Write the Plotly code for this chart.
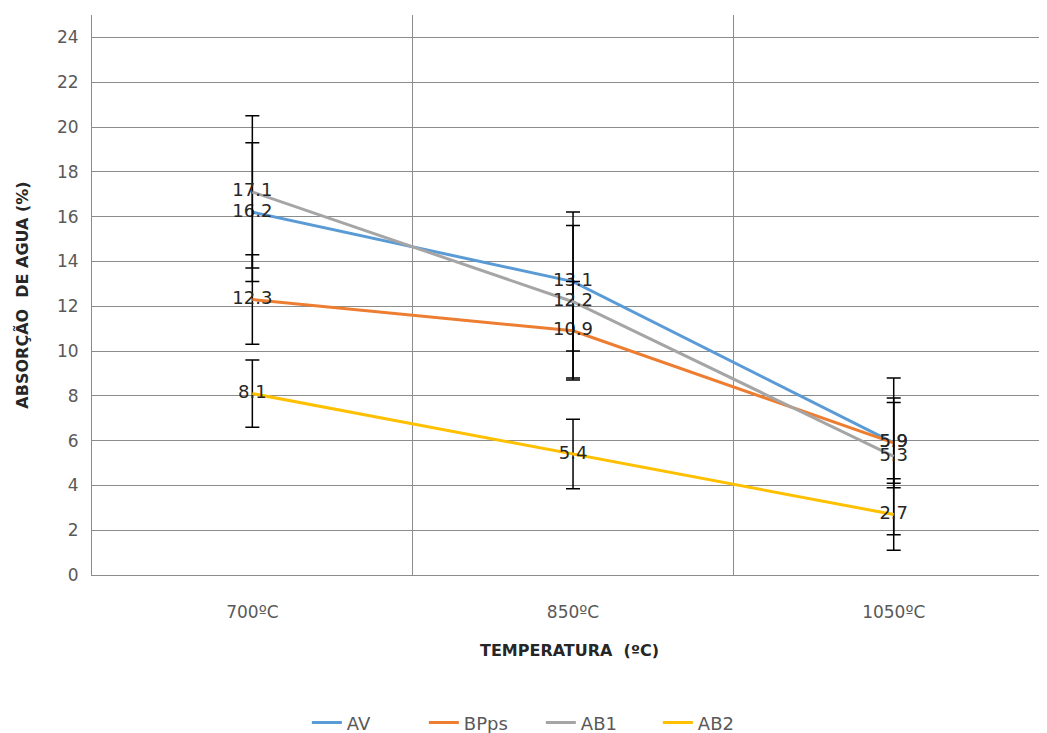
import plotly.graph_objects as go

categories = ["700ºC", "850ºC", "1050ºC"]
series_names = ["AV", "BPps", "AB1", "AB2"]
av = [16.2, 13.1, 5.9]
bpps = [12.3, 10.9, 5.9]
ab1 = [17.1, 12.2, 5.3]
ab2 = [8.1, 5.4, 2.7]
av_err = [3.1, 3.1, 2.0]
bpps_err = [2.0, 2.2, 1.8]
ab1_err = [3.4, 3.4, 3.5]
ab2_err = [1.5, 1.55, 1.6]
colors = ["#5B9BD5", "#ED7D31", "#A5A5A5", "#FFC000"]
y_ticks = list(range(0, 25, 2))

values = [av, bpps, ab1, ab2]
errors = [av_err, bpps_err, ab1_err, ab2_err]

FONT = "DejaVu Sans"
fig = go.Figure()
for name, vals, errs, col in zip(series_names, values, errors, colors):
    fig.add_trace(go.Scatter(
        x=categories, y=vals, name=name, mode="lines+text",
        line=dict(color=col, width=3),
        text=[f"{v:.1f}" for v in vals], textposition="middle center",
        textfont=dict(family=FONT, size=18, color="#262626"),
        error_y=dict(type="data", array=errs, visible=True, color="black",
                     thickness=1.5, width=7),
    ))

fig.update_layout(
    width=1047, height=733,
    margin=dict(l=84, r=8, t=7, b=166, autoexpand=False),
    paper_bgcolor="white", plot_bgcolor="white",
    font=dict(family=FONT, size=17, color="#595959"),
    showlegend=True,
    legend=dict(orientation="h", x=0.47, xanchor="center", y=-0.264, yanchor="middle",
                font=dict(family=FONT, size=18, color="#595959"),
                entrywidth=72, entrywidthmode="pixels"),
    xaxis=dict(type="category", range=[-0.5, 2.478], tickson="boundaries",
               showgrid=True, gridcolor="#8c8c8c", gridwidth=1, automargin=False,
               showline=True, linecolor="#8c8c8c", ticks="", ticklen=0,
               ticklabelstandoff=22,
               tickfont=dict(family=FONT, size=17, color="#595959"),
               title=dict(text="<b>TEMPERATURA  (ºC)</b>", standoff=23,
                          font=dict(family=FONT, size=16, color="#262626"))),
    yaxis=dict(range=[0, 25], tickvals=y_ticks, showgrid=True, gridcolor="#8c8c8c",
               gridwidth=1, showline=True, linecolor="#8c8c8c", zeroline=False,
               ticks="", automargin=False,
               tickfont=dict(family=FONT, size=17, color="#595959"),
               ticklabelstandoff=9,
               title=dict(text="<b>ABSORÇÃO  DE AGUA (%)</b>", standoff=24,
                          font=dict(family=FONT, size=16, color="#262626"))),
)

fig.write_html("out.html")
